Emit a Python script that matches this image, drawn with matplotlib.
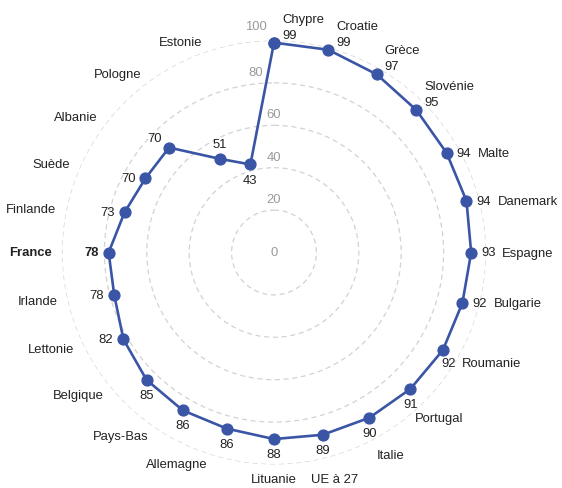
import numpy as np
import matplotlib.pyplot as plt

plt.rcParams['font.family'] = ['Liberation Sans', 'DejaVu Sans']

# données (sens horaire depuis le haut)
pays = ["Chypre", "Croatie", "Grèce", "Slovénie", "Malte", "Danemark", "Espagne",
        "Bulgarie", "Roumanie", "Portugal", "Italie", "UE à 27", "Lituanie",
        "Allemagne", "Pays-Bas", "Belgique", "Lettonie", "Irlande", "France",
        "Finlande", "Suède", "Albanie", "Pologne", "Estonie"]
valeurs = [99, 99, 97, 95, 94, 94, 93, 92, 92, 91, 90, 89, 88,
           86, 86, 85, 82, 78, 78, 73, 70, 70, 51, 43]
niveaux = [0, 20, 40, 60, 80, 100]
pays_en_gras = "France"

BLEU = "#3a55a5"
GRIS = "#9a9a9a"
NOIR = "#222222"
TAILLE = 9.4
R_PX = 212
PX = 100 / R_PX  # unités de données par pixel

n = len(pays)
angles_deg = np.arange(n) * 360 / n
angles = np.radians(angles_deg)

fig = plt.figure(figsize=(5.62, 4.89), dpi=100)
cx, cy = 274, 253.5
ax = fig.add_axes([(cx - R_PX) / 562, (489 - cy - R_PX) / 489,
                   2 * R_PX / 562, 2 * R_PX / 489], projection="polar")
ax.set_theta_zero_location("N")
ax.set_theta_direction(-1)
ax.set_ylim(0, 100)
ax.set_xticks([])
ax.set_yticks(niveaux[1:])
ax.set_yticklabels([])
ax.yaxis.grid(True, color="#d2d2d2", linestyle=(0, (4, 3)), linewidth=0.9)
ax.xaxis.grid(False)
ax.spines["polar"].set_visible(False)
ax.patch.set_alpha(0)

# étiquettes des niveaux
for niv in niveaux:
    dx = -18 if niv >= 80 else 0
    dy = 0 if niv == 0 else (14 if niv == 100 else 11)
    ax.annotate(str(niv), xy=(0, niv), xytext=(dx, dy), textcoords="offset pixels",
                ha="center", va="center", color=GRIS, fontsize=TAILLE,
                annotation_clip=False)

# la ligne
ax.plot(np.append(angles, angles[0]), valeurs + valeurs[:1], color=BLEU,
        linewidth=1.9, marker="o", markersize=7.8, zorder=3, clip_on=False)


def place_valeur(t):
    if t <= 45:
        return 8, 8, "left", "center"
    if t <= 105:
        return 10, 0, "left", "center"
    if t <= 120:
        return -2, -13, "left", "center"
    if t <= 225:
        return 0, -15, "center", "center"
    if t <= 300:
        return -10, 0, "right", "center"
    if t <= 315:
        return -7, 4, "right", "bottom"
    if t <= 330:
        return 0, 9, "center", "bottom"
    return 0, -10, "center", "top"


for nom, val, t, a in zip(pays, valeurs, angles_deg, angles):
    poids = "bold" if nom == pays_en_gras else "normal"
    style = dict(fontsize=TAILLE, fontweight=poids, color=NOIR, annotation_clip=False)
    dx, dy, ha, va = place_valeur(t)
    ax.annotate(str(val), xy=(a, val), xytext=(dx, dy), textcoords="offset pixels",
                ha=ha, va=va, zorder=4, **style)

    if t <= 45:
        ax.annotate(nom, xy=(a, val), xytext=(dx, dy + 16), textcoords="offset pixels",
                    ha="left", va="center", **style)
    elif t <= 120:
        ax.annotate(nom, xy=(a, val), xytext=(dx + 21, dy), textcoords="offset pixels",
                    ha="left", va="center", **style)
    elif t <= 180:
        r_lab = 227 if t == 180 else 234
        ax.annotate(nom, xy=(a, r_lab * PX), ha="center", va="center", **style)
    else:
        phi = t - 270
        amp = 7.5 if phi > 0 else 5
        t2 = t - amp * np.sin(np.radians(2 * phi))
        ax.annotate(nom, xy=(np.radians(t2), 222 * PX), ha="right", va="center",
                    **style)

fig.savefig("out.png", dpi=100)
